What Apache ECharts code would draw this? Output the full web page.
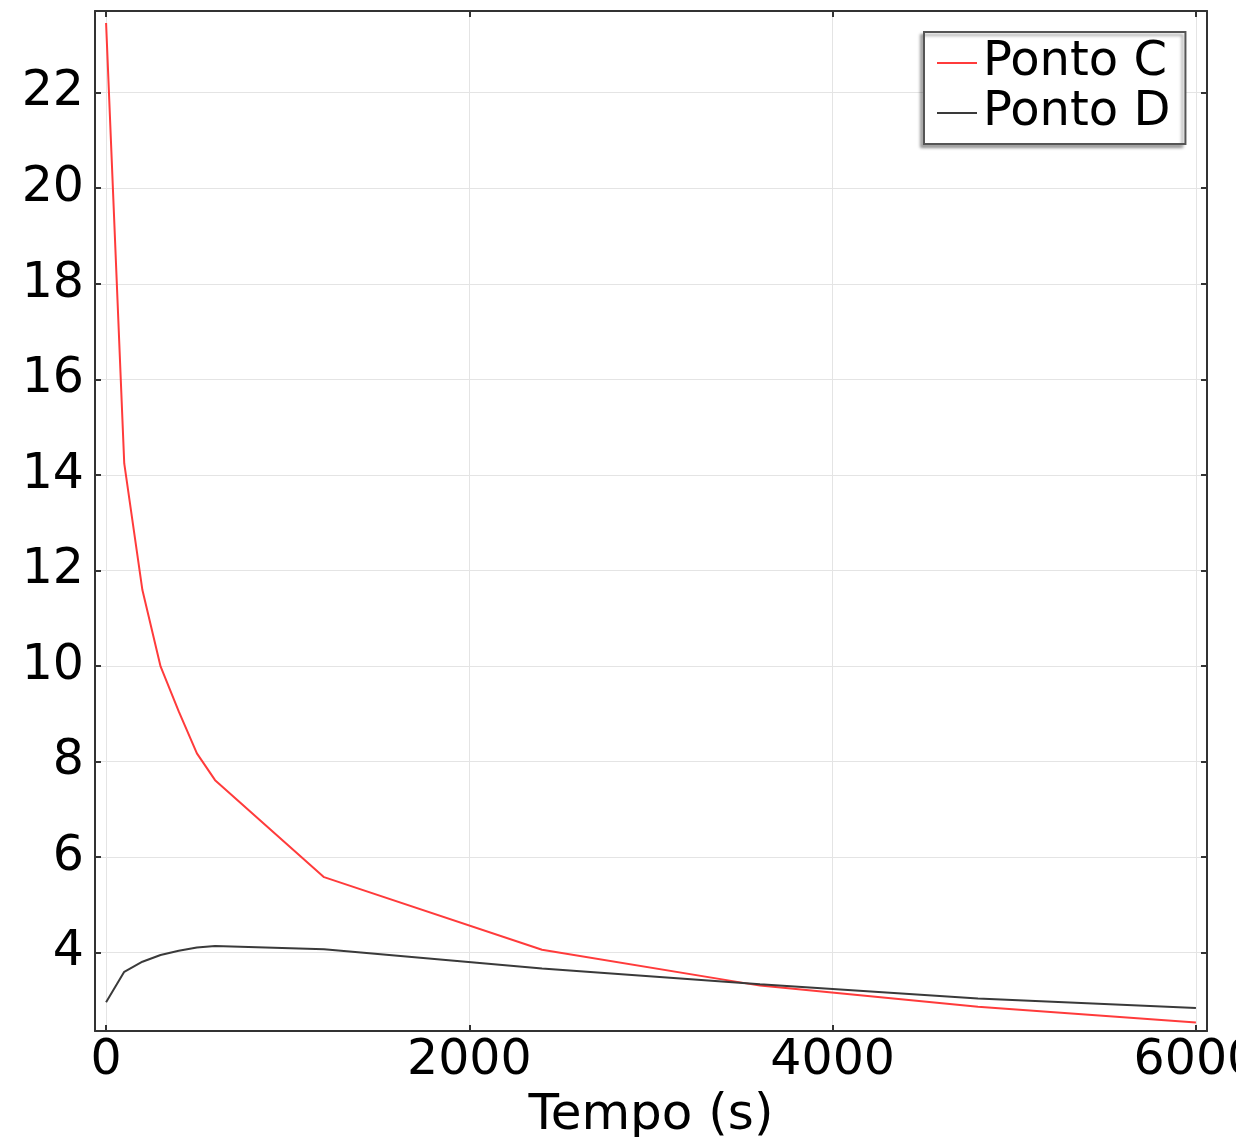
<!DOCTYPE html>
<html>
<head>
<meta charset="utf-8">
<script src="https://cdn.jsdelivr.net/npm/echarts@6/dist/echarts.min.js"></script>
<style>
    html, body { margin: 0; padding: 0; background: #fff; }
    #chart { width: 1236px; height: 1137px; }
</style>
</head>
<body>
<div id="chart"></div>
<script>
// tempo (s)
const times = [0, 100, 200, 300, 400, 500, 600, 1200, 2400, 3600, 4800, 6000];
// Ponto C
const pontoC = [23.46, 14.24, 11.59, 9.99, 9.05, 8.17, 7.61, 5.58, 4.06, 3.31, 2.87, 2.54];
// Ponto D
const pontoD = [2.96, 3.60, 3.81, 3.95, 4.04, 4.11, 4.14, 4.07, 3.67, 3.34, 3.04, 2.84];
// marcas dos eixos
const xTicks = [0, 2000, 4000, 6000];
const yTicks = [4, 6, 8, 10, 12, 14, 16, 18, 20, 22];

const font = "DejaVu Sans";
const frameColor = "#333";

function pairs(vals) {
    return times.map((t, i) => [t, vals[i]]);
}

const chart = echarts.init(document.getElementById("chart"));

// eixo com borda, marcas para dentro
function axisBase(pos, ticks, showLabel) {
    let horizontal = pos === "bottom" || pos === "top";
    return {
        type: "value",
        position: pos,
        min: horizontal ? -61 : 2.36,
        max: horizontal ? 6061 : 23.71,
        axisLine: { show: true, onZero: false, lineStyle: { color: frameColor, width: 2 } },
        axisTick: { show: true, inside: true, length: 6, customValues: ticks, lineStyle: { color: frameColor, width: 2 } },
        axisLabel: {
            show: showLabel,
            customValues: ticks,
            formatter: v => String(v),
            hideOverlap: false,
            color: "#000",
            fontFamily: font,
            fontSize: 49,
            margin: pos === "left" ? 11 : 6
        },
        splitLine: { show: showLabel, lineStyle: { color: "#e4e4e4", width: 1 } }
    };
}

const xBottom = axisBase("bottom", xTicks, true);
xBottom.name = "Tempo (s)";
xBottom.nameLocation = "middle";
xBottom.nameGap = 46;
xBottom.nameTextStyle = { color: "#000", fontFamily: font, fontSize: 50 };

const option = {
    animation: false,
    backgroundColor: "#fff",
    grid: { left: 95, right: 29, top: 11, bottom: 106, containLabel: false, outerBoundsMode: "none" },
    legend: {
        orient: "vertical",
        left: 924,
        top: 32,
        padding: [7, 15, 7, 13],
        itemGap: 2,
        itemWidth: 40,
        itemHeight: 2,
        icon: "rect",
        backgroundColor: "#fff",
        borderColor: "#555",
        borderWidth: 2,
        borderRadius: 0,
        shadowColor: "rgba(0,0,0,0.35)",
        shadowBlur: 3,
        shadowOffsetX: -3,
        shadowOffsetY: 3,
        textStyle: { color: "#000", fontFamily: font, fontSize: 48, padding: [0, 0, 0, 1] },
        data: ["Ponto C", "Ponto D"]
    },
    xAxis: [xBottom, axisBase("top", xTicks, false)],
    yAxis: [axisBase("left", yTicks, true), axisBase("right", yTicks, false)],
    series: [
        {
            name: "Ponto C",
            type: "line",
            showSymbol: false,
            data: pairs(pontoC),
            itemStyle: { color: "#ff3b3b" },
            lineStyle: { color: "#ff3b3b", width: 2 }
        },
        {
            name: "Ponto D",
            type: "line",
            showSymbol: false,
            data: pairs(pontoD),
            itemStyle: { color: "#3a3a3a" },
            lineStyle: { color: "#3a3a3a", width: 2 }
        }
    ]
};

chart.setOption(option);
</script>
</body>
</html>
